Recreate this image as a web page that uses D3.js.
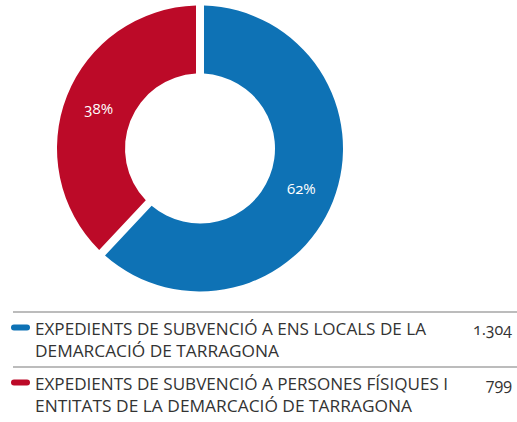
<!DOCTYPE html>
<html>
<head>
<meta charset="utf-8">
<script src="https://cdn.jsdelivr.net/npm/d3@7"></script>
<style>
  html, body { margin: 0; padding: 0; background: #fff; }
  svg { display: block; font-family: "Open Sans", "Noto Sans", sans-serif; }
  .pct { font-variant-numeric: oldstyle-nums; }
  .val { font-variant-numeric: oldstyle-nums; }
</style>
</head>
<body>
<svg id="chart" width="517" height="422"></svg>
<script>
// Subsidy files by recipient type
const categories = [
  ["EXPEDIENTS DE SUBVENCIÓ A ENS LOCALS DE LA", "DEMARCACIÓ DE TARRAGONA"],
  ["EXPEDIENTS DE SUBVENCIÓ A PERSONES FÍSIQUES I", "ENTITATS DE LA DEMARCACIÓ DE TARRAGONA"]
];
const values = [1304, 799];
const valueLabels = ["1.304", "799"];
const colors = ["#0e72b5", "#bc0a28"];

const svg = d3.select("#chart");
const cx = 200, cy = 148.5, outerR = 143, innerR = 75;

const total = d3.sum(values);
const pie = d3.pie().sort(null).value(d => d);
const arcs = pie(values);

const gap = 8;
const arc = d3.arc()
  .innerRadius(innerR)
  .outerRadius(outerR)
  .padRadius(outerR)
  .padAngle(gap / outerR);
const labelArc = d3.arc().innerRadius(innerR).outerRadius(outerR);

const g = svg.append("g").attr("transform", `translate(${cx},${cy})`);
g.selectAll("path.slice")
  .data(arcs)
  .join("path")
  .attr("class", "slice")
  .attr("d", arc)
  .attr("fill", (d, i) => colors[i]);

const pctFmt = v => Math.round(v / total * 100) + "%";
g.selectAll("text.pct")
  .data(arcs)
  .join("text")
  .attr("class", "pct")
  .attr("transform", d => `translate(${labelArc.centroid(d)})`)
  .attr("text-anchor", "middle")
  .attr("dy", "0.35em")
  .attr("fill", "#fff")
  .attr("font-size", 15)
  .attr("font-weight", 400)
  .text(d => pctFmt(d.data));

// Legend table
const legendLeft = 13, legendRight = 517;
const rowTop = [312, 367];
const lineTargets = [[391, 244], [413, 377]];

const legend = svg.append("g");
categories.forEach((lines, i) => {
  const y0 = rowTop[i];
  legend.append("line")
    .attr("x1", legendLeft).attr("x2", legendRight)
    .attr("y1", y0).attr("y2", y0)
    .attr("stroke", "#a6a6a6").attr("stroke-width", 1.5);
  legend.append("rect")
    .attr("x", 11).attr("y", y0 + 12.5)
    .attr("width", 19).attr("height", 6).attr("rx", 3)
    .attr("fill", colors[i]);
  lines.forEach((t, j) => {
    legend.append("text")
      .attr("x", 35).attr("y", y0 + 23 + j * 22)
      .attr("font-size", 16)
      .attr("font-weight", 400)
      .attr("fill", "#333")
      .attr("textLength", lineTargets[i][j])
      .attr("lengthAdjust", "spacingAndGlyphs")
      .text(t);
  });
  legend.append("text")
    .attr("class", "val")
    .attr("x", 512).attr("y", y0 + 23)
    .attr("text-anchor", "end")
    .attr("font-size", 16)
    .attr("font-weight", 400)
    .attr("fill", "#333")
    .text(valueLabels[i]);
});
</script>
</body>
</html>
